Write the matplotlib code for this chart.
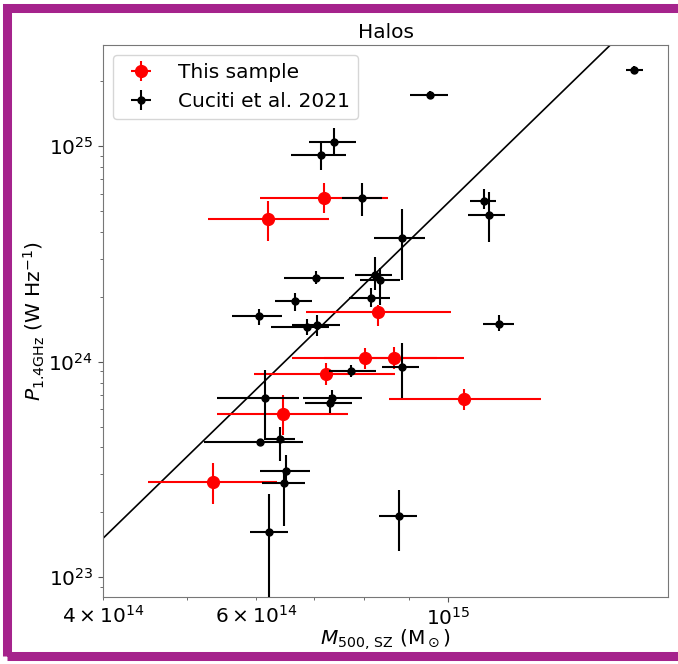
import numpy as np
import matplotlib
matplotlib.use("Agg")
import matplotlib.pyplot as plt
from matplotlib.patches import Rectangle

# ---- data (M500 in 1e14 Msun, P1.4 in 1e24 W/Hz) ----
this_M      = [6.20, 7.19, 8.30, 8.02, 8.66, 7.23, 6.45, 5.36, 10.43]
this_M_lo   = [0.91, 1.12, 1.45, 1.41, 1.47, 1.26, 1.04, 0.85, 1.90]
this_M_hi   = [1.09, 1.33, 1.78, 1.69, 1.75, 1.45, 1.22, 0.99, 2.34]
this_P      = [4.61, 5.71, 1.70, 1.044, 1.044, 0.880, 0.574, 0.278, 0.673]
this_P_lo   = [0.97, 0.80, 0.23, 0.116, 0.116, 0.098, 0.115, 0.059, 0.074]
this_P_hi   = [0.92, 0.99, 0.14, 0.117, 0.130, 0.109, 0.129, 0.062, 0.076]

cuc_M    = [7.14, 7.39, 9.53, 16.35, 7.96, 8.83, 11.00, 11.12, 11.42, 8.22, 8.33, 8.15, 7.04, 6.66,
            6.05, 6.88, 7.06, 7.73, 8.85, 7.35, 7.31, 6.15, 6.40, 6.07, 6.50, 6.47, 6.22, 8.78]
cuc_M_lo = [0.55, 0.48, 0.49, 0.35, 0.43, 0.63, 0.40, 0.60, 0.45, 0.42, 0.43, 0.46, 0.57, 0.35,
            0.42, 0.63, 0.45, 0.44, 0.46, 0.56, 0.47, 0.74, 0.27, 0.84, 0.43, 0.37, 0.31, 0.46]
cuc_M_hi = [0.49, 0.44, 0.47, 0.39, 0.43, 0.56, 0.33, 0.51, 0.47, 0.40, 0.46, 0.42, 0.54, 0.31,
            0.38, 0.41, 0.43, 0.53, 0.41, 0.61, 0.44, 0.58, 0.26, 0.73, 0.43, 0.37, 0.31, 0.43]
cuc_P    = [9.13, 10.49, 17.15, 22.40, 5.71, 3.76, 5.53, 4.81, 1.50, 2.51, 2.38, 1.98, 2.45, 1.92,
            1.62, 1.45, 1.48, 0.908, 0.948, 0.681, 0.645, 0.681, 0.439, 0.425, 0.312, 0.275, 0.163, 0.193]
cuc_P_lo = [1.35, 1.55, 0.70, 0.93, 0.95, 1.38, 0.40, 1.24, 0.12, 0.35, 0.54, 0.18, 0.15, 0.21,
            0.14, 0.12, 0.16, 0.056, 0.267, 0.049, 0.065, 0.237, 0.092, 0.010, 0.042, 0.102, 0.092, 0.060]
cuc_P_hi = [1.36, 1.69, 0.75, 0.98, 0.99, 1.37, 0.82, 1.34, 0.15, 0.56, 0.35, 0.22, 0.19, 0.17,
            0.14, 0.12, 0.16, 0.060, 0.277, 0.060, 0.058, 0.237, 0.060, 0.010, 0.058, 0.040, 0.081, 0.062]

# correlation line: log P = fit_logP0 + fit_slope * (log M - fit_logM0)
fit_slope = 3.915
fit_logM0 = 15.0
fit_logP0 = 24.7385

title = "Halos"
label_this = "This sample"
label_cuc = "Cuciti et al. 2021"

MUNIT, PUNIT = 1e14, 1e24

plt.rcParams['font.family'] = ['DejaVu Sans']
fig = plt.figure(figsize=(6.78, 6.64), dpi=100)
ax = fig.add_axes([103/678, 67/664, 565/678, 552/664])

tm = np.array(this_M) * MUNIT
tp = np.array(this_P) * PUNIT
h1 = ax.errorbar(tm, tp,
                 xerr=[np.array(this_M_lo) * MUNIT, np.array(this_M_hi) * MUNIT],
                 yerr=[np.array(this_P_lo) * PUNIT, np.array(this_P_hi) * PUNIT],
                 fmt='o', color='red', ecolor='red', ms=8.5, elinewidth=1.5,
                 label=label_this, zorder=2)
cm = np.array(cuc_M) * MUNIT
cp = np.array(cuc_P) * PUNIT
h2 = ax.errorbar(cm, cp,
                 xerr=[np.array(cuc_M_lo) * MUNIT, np.array(cuc_M_hi) * MUNIT],
                 yerr=[np.array(cuc_P_lo) * PUNIT, np.array(cuc_P_hi) * PUNIT],
                 fmt='o', color='black', ecolor='black', ms=5, elinewidth=1.5,
                 label=label_cuc, zorder=3)

ax.set_xscale('log')
ax.set_yscale('log')
xlim = (4e14, 1.79e15)
ylim = (8.1e22, 2.94e25)
xx = np.array(xlim)
ax.plot(xx, 10 ** (fit_logP0 + fit_slope * (np.log10(xx) - fit_logM0)),
        color='black', lw=1.2, zorder=1)
ax.set_xlim(*xlim)
ax.set_ylim(*ylim)

ax.set_title(title, fontsize=14.5, pad=5)
ax.set_xlabel(r'$M_{\rm 500,\,SZ}$ (M$_\odot$)', fontsize=14.5, labelpad=-1)
ax.set_ylabel(r'$P_{\rm 1.4GHz}$ (W Hz$^{-1}$)', fontsize=14.5, labelpad=1)
ax.tick_params(which='both', labelsize=14.5, color='#555555')
for s in ax.spines.values():
    s.set_color('#777777')

ax.legend(handles=[h1, h2], loc='upper left', fontsize=14.5, handletextpad=0.8)

fig.patches.append(Rectangle((7/678, 8/664), 680/678, 648/664, transform=fig.transFigure,
                             fill=False, edgecolor='#a5238c', lw=6.5, zorder=10))

fig.savefig('out.png', dpi=100)
